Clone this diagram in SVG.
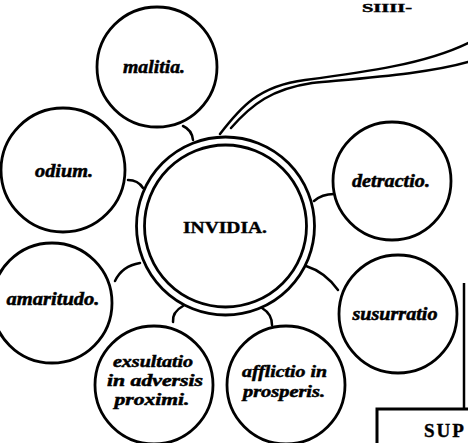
<svg xmlns="http://www.w3.org/2000/svg" width="468" height="443" viewBox="0 0 468 443">
<style>
.node{fill:#fff;stroke:#000;stroke-width:2.8}
.lbl{font-family:"Liberation Serif","DejaVu Serif",serif;font-style:italic;font-weight:bold;font-size:18px;fill:#000;stroke:#000;stroke-width:0.5;text-anchor:middle}
.sm{font-size:16px}
.con{fill:none;stroke:#000;stroke-width:2.5;stroke-linecap:round}
.cap{font-family:"Liberation Serif","DejaVu Serif",serif;font-weight:bold;fill:#000;stroke:#000;stroke-width:0.4}
</style>
<rect width="468" height="443" fill="#fff"/>
<text class="cap" x="362" y="12" font-size="12" textLength="50" lengthAdjust="spacingAndGlyphs">SIIII-</text>
<g id="connectors">
<path class="con" d="M220,134 C240,108 258,86 305,80 C365,72 425,64 468,43"/>
<path class="con" d="M231,128 C252,104 272,89 312,83 C375,77 430,73 468,62"/>
<path class="con" d="M183,126 Q192,130 193,140"/>
<path class="con" d="M128,180 Q138,180 143,188"/>
<path class="con" d="M115,281 Q122,266 140,263"/>
<path class="con" d="M173,322 Q172,312 183,306"/>
<path class="con" d="M262,308 Q272,314 272,325"/>
<path class="con" d="M306,266 Q325,272 338,290"/>
<path class="con" d="M314,201 Q322,194 334,194"/>
</g>
<g id="invidia">
<circle class="node" cx="225.5" cy="226" r="89"/>
<circle class="node" cx="225.5" cy="226" r="81" stroke-width="2.5"/>
<text class="cap" x="225" y="233" font-size="16" text-anchor="middle" textLength="84" lengthAdjust="spacingAndGlyphs">INVIDIA.</text>
</g>
<g id="malitia">
<circle class="node" cx="157" cy="67" r="60"/>
<text class="lbl" x="154" y="73" textLength="62" lengthAdjust="spacingAndGlyphs">malitia.</text>
</g>
<g id="odium">
<circle class="node" cx="63" cy="170" r="62"/>
<text class="lbl" x="64" y="177" textLength="58" lengthAdjust="spacingAndGlyphs">odium.</text>
</g>
<g id="amaritudo">
<circle class="node" cx="52" cy="303" r="60"/>
<text class="lbl" x="53" y="305" textLength="93" lengthAdjust="spacingAndGlyphs">amaritudo.</text>
</g>
<g id="exsultatio">
<circle class="node" cx="154" cy="385" r="59"/>
<text class="lbl sm" x="153" y="367" textLength="80" lengthAdjust="spacingAndGlyphs">exsultatio</text>
<text class="lbl sm" x="155" y="386" textLength="96" lengthAdjust="spacingAndGlyphs">in adversis</text>
<text class="lbl sm" x="152" y="405" textLength="75" lengthAdjust="spacingAndGlyphs">proximi.</text>
</g>
<g id="afflictio">
<circle class="node" cx="286" cy="385" r="59"/>
<text class="lbl sm" x="284.5" y="377" textLength="85" lengthAdjust="spacingAndGlyphs">afflictio in</text>
<text class="lbl sm" x="284" y="397" textLength="82" lengthAdjust="spacingAndGlyphs">prosperis.</text>
</g>
<g id="susurratio">
<circle class="node" cx="398" cy="314" r="59"/>
<text class="lbl" x="395" y="320" textLength="85" lengthAdjust="spacingAndGlyphs">susurratio</text>
</g>
<g id="detractio">
<circle class="node" cx="392" cy="181" r="59"/>
<text class="lbl" x="391" y="187" textLength="78" lengthAdjust="spacingAndGlyphs">detractio.</text>
</g>
<g id="frame">
<path d="M464,283 V409" fill="none" stroke="#000" stroke-width="2.5"/>
<path d="M377,443 V409 H468" fill="none" stroke="#000" stroke-width="3"/>
<text class="cap" x="424" y="437" font-size="19" letter-spacing="2">SUP</text>
</g>
</svg>
